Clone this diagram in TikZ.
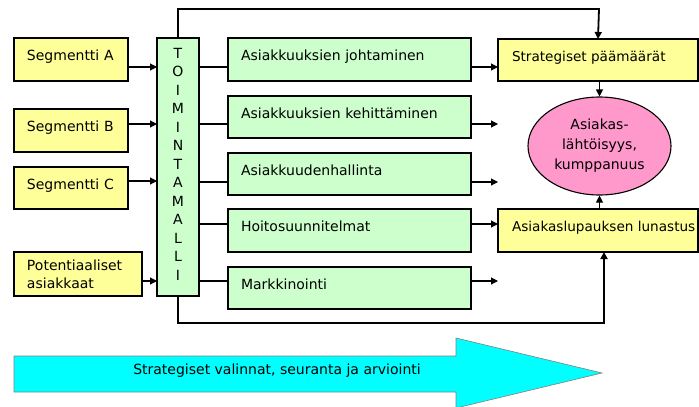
\documentclass[tikz,border=0pt]{standalone}
\usepackage{fontspec}
\setmainfont{DejaVu Sans}
\usetikzlibrary{arrows.meta,shapes.geometric}
\definecolor{boxyellow}{HTML}{FFFF99}
\definecolor{boxgreen}{HTML}{CCFFCC}
\definecolor{boxpink}{HTML}{FF99CC}
\definecolor{bandcyan}{HTML}{00FFFF}
\newcommand{\goaltext}[1]{\makebox[186pt][l]{\hspace{7pt}#1}}
\begin{document}
\begin{tikzpicture}[x=1pt,y=-1pt,
  font=\fontsize{14}{17}\selectfont,
  tip/.style={-{Triangle[length=7pt,width=7pt]}},
  link/.style={line width=1.1pt},
  box/.style={draw, line width=1.2pt, anchor=north west, inner xsep=13pt,
    inner ysep=0pt, outer sep=0pt, align=left, text height=22pt},
  ybox/.style={box, fill=boxyellow},
  gbox/.style={box, fill=boxgreen, text width=217pt},
  goal/.style={draw, line width=1.2pt, fill=boxyellow, anchor=north west,
    inner xsep=7pt, inner ysep=0pt, outer sep=0pt, text height=22pt,
    font=\fontsize{13.6}{17}\selectfont}
]
\useasboundingbox (0,0) rectangle (699,407);

% left column: customer segments
\node[ybox, text width=88pt, text depth=21pt] (segA) at (14,38)  {Segmentti A};
\node[ybox, text width=88pt, text depth=21pt] (segB) at (14,109) {Segmentti B};
\node[ybox, text width=88pt, text depth=20pt] (segC) at (14,167) {Segmentti C};
\node[draw, line width=1.2pt, fill=boxyellow, anchor=north west, outer sep=0pt,
  inner xsep=13pt, inner ysep=0pt, text width=102pt, minimum height=44pt,
  align=left, font=\fontsize{14}{18}\selectfont] (pot) at (14,252)
  {Potentiaaliset\\asiakkaat};

% operating model column
\node[draw, line width=1.2pt, fill=boxgreen, anchor=north west, outer sep=0pt,
  minimum width=42pt, minimum height=258pt] (toim) at (157,38) {};
\node[align=center, font=\fontsize{14}{18.5}\selectfont] (toimtext) at (178,164)
  {T\\O\\I\\M\\I\\N\\T\\A\\M\\A\\L\\L\\I};

% activities
\node[gbox, text depth=21pt] (g1) at (228,38)  {Asiakkuuksien johtaminen};
\node[gbox, text depth=20pt] (g2) at (228,96)  {Asiakkuuksien kehittäminen};
\node[gbox, text depth=20pt] (g3) at (228,153) {Asiakkuudenhallinta};
\node[gbox, text depth=21pt] (g4) at (228,209) {Hoitosuunnitelmat};
\node[gbox, text depth=20pt] (g5) at (228,267) {Markkinointi};

% goals on the right
\node[goal, text depth=20pt] (sp) at (498,39)  {\goaltext{Strategiset päämäärät}};
\node[goal, text depth=21pt] (al) at (498,209) {\goaltext{Asiakaslupauksen lunastus}};
\node[draw, line width=1.1pt, fill=boxpink, ellipse, inner sep=0pt,
  minimum width=143pt, minimum height=98pt, align=center,
  font=\fontsize{14}{20}\selectfont] (ell) at (599.5,146)
  {Asiakas-\\lähtöisyys,\\kumppanuus};

% segments into the operating model
\draw[link, tip] (segA.east |- 0,67)  -- (toim.west |- 0,67);
\draw[link, tip] (segB.east |- 0,124) -- (toim.west |- 0,124);
\draw[link, tip] (segC.east |- 0,181) -- (toim.west |- 0,181);
\draw[link, tip] (pot.east |- 0,281)  -- (toim.west |- 0,281);

% operating model to activities
\draw[link] (toim.east |- 0,67)  -- (g1.west |- 0,67);
\draw[link] (toim.east |- 0,124) -- (g2.west |- 0,124);
\draw[link] (toim.east |- 0,182) -- (g3.west |- 0,182);
\draw[link] (toim.east |- 0,224) -- (g4.west |- 0,224);
\draw[link] (toim.east |- 0,281) -- (g5.west |- 0,281);

% activity outputs
\coordinate (o2) at (498,124);
\coordinate (o3) at (498,182);
\coordinate (o5) at (498,281);
\draw[link, tip] (g1.east |- 0,67)  -- (sp.west |- 0,67);
\draw[link, tip] (g2.east |- o2) -- (o2);
\draw[link, tip] (g3.east |- o3) -- (o3);
\draw[link, tip] (g4.east |- 0,224) -- (al.west |- 0,224);
\draw[link, tip] (g5.east |- o5) -- (o5);

% goals into the ellipse
\draw[link, tip] (sp.south -| ell.north) -- (ell.north);
\draw[link, tip] (al.north -| ell.south) -- (ell.south);

% feedback loops around the whole
\draw[line width=1.8pt, tip] (toim.north) -- (178,9) -- (599,9) -- (599,39 -| sp.north);
\draw[line width=2.2pt, tip] (toim.south) -- (178,323) -- (604,323) -- (al.south -| 604,0);

% strategic band
\filldraw[fill=bandcyan, draw=gray, line width=0.6pt]
  (14,356) -- (456,356) -- (456,338) -- (602,373) -- (456,408) -- (456,392) -- (14,392) -- cycle;
\node (band) at (277,371) {Strategiset valinnat, seuranta ja arviointi};
\end{tikzpicture}
\end{document}
